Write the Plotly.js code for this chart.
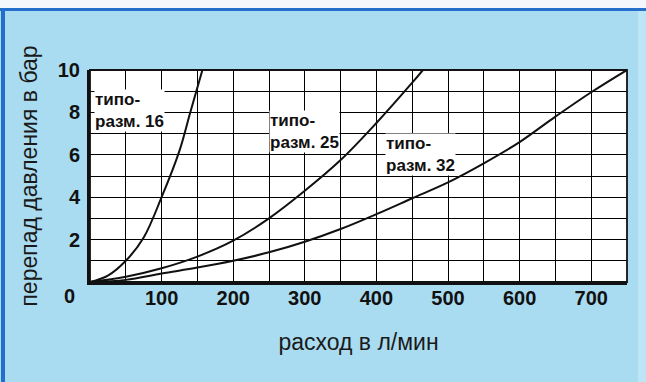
<!DOCTYPE html>
<html>
<head>
<meta charset="utf-8">
<script src="https://cdn.plot.ly/plotly-3.0.1.min.js"></script>
<style>
  html, body { margin: 0; padding: 0; background: #ffffff; }
  #wrap { position: relative; width: 646px; height: 382px; overflow: hidden; }
  #chart { position: absolute; left: 0; top: 0; width: 646px; height: 382px; }
  .deco { position: absolute; pointer-events: none; }
</style>
</head>
<body>
<div id="wrap">
  <div id="chart"></div>
  <div class="deco" style="left:0;top:0;width:646px;height:8px;background:#f2f8fc;"></div>
  <div class="deco" style="left:0;top:8px;width:646px;height:3px;background:#226fcc;"></div>
  <div class="deco" style="left:1px;top:8px;width:4px;height:374px;background:#226fcc;"></div>
  <div class="deco" style="left:638px;top:11px;width:8px;height:371px;background:#bde5f5;"></div>
</div>
<script>
// Flow rate (l/min) and pressure drop (bar) for each size
const flow16 = [0, 25, 50, 75, 100, 125, 140, 157];
const dp16   = [0, 0.3, 1.0, 2.1, 4.0, 6.2, 8.0, 10];

const flow25 = [0, 50, 100, 150, 200, 250, 300, 350, 400, 450, 465];
const dp25   = [0, 0.25, 0.65, 1.2, 1.95, 3.0, 4.3, 5.75, 7.5, 9.4, 10];

const flow32 = [0, 50, 100, 150, 200, 250, 300, 350, 400, 450, 500, 550, 600, 650, 700, 750];
const dp32   = [0, 0.1, 0.4, 0.68, 1.0, 1.4, 1.9, 2.5, 3.2, 3.95, 4.7, 5.6, 6.6, 7.8, 8.95, 10];

// Grid positions and tick labels
const xTickVals = [0, 50, 100, 150, 200, 250, 300, 350, 400, 450, 500, 550, 600, 650, 700, 750];
const xTickText = ['', '', '100', '', '200', '', '300', '', '400', '', '500', '', '600', '', '700', ''];
const yTickVals = [0, 1, 2, 3, 4, 5, 6, 7, 8, 9, 10];
const yTickText = ['', '', '2', '', '4', '', '6', '', '8', '', '10'];
const cornerLabel = '0';

// Curve labels
const curveLabels = ['типо-<br>разм. 16', 'типо-<br>разм. 25', 'типо-<br>разм. 32'];
const labelX = [6, 250, 412];
const labelY = [8.09, 7.08, 6.01];

const lineStyle = {color: '#111111', width: 2, shape: 'spline', smoothing: 1};
const traces = [
  {x: flow16, y: dp16, mode: 'lines', line: lineStyle, hoverinfo: 'skip'},
  {x: flow25, y: dp25, mode: 'lines', line: lineStyle, hoverinfo: 'skip'},
  {x: flow32, y: dp32, mode: 'lines', line: lineStyle, hoverinfo: 'skip'}
];

const tickFont = {family: 'Liberation Sans, Arial, sans-serif', size: 20, color: '#111111', weight: 'bold'};
const titleFont = {family: 'Liberation Sans, Arial, sans-serif', size: 23, color: '#1a1a1a'};
const labelFont = {family: 'Liberation Sans, Arial, sans-serif', size: 17, color: '#111111', weight: 'bold'};

const annotations = curveLabels.map((t, i) => ({
  x: labelX[i], y: labelY[i], xref: 'x', yref: 'y', text: t,
  showarrow: false, xanchor: 'left', yanchor: 'middle', align: 'left',
  bgcolor: '#ffffff', borderpad: 0, font: labelFont
}));
annotations.push({
  x: -0.038, y: -0.066, xref: 'paper', yref: 'paper', text: cornerLabel, showarrow: false,
  xanchor: 'center', yanchor: 'middle', font: tickFont
});

const layout = {
  width: 646, height: 382,
  margin: {l: 90, r: 19, t: 70, b: 100},
  paper_bgcolor: '#aadcf1',
  plot_bgcolor: '#ffffff',
  showlegend: false,
  xaxis: {
    range: [0, 750], tickvals: xTickVals, ticktext: xTickText, ticks: '', ticklabelstandoff: -4,
    showgrid: true, gridcolor: '#000000', gridwidth: 1,
    showline: true, linecolor: '#111111', linewidth: 3, zeroline: false,
    tickfont: tickFont, fixedrange: true,
    title: {text: 'расход в л/мин', font: titleFont, standoff: 26}
  },
  yaxis: {
    range: [0, 10], tickvals: yTickVals, ticktext: yTickText, ticks: '', ticklabelstandoff: 3,
    showgrid: true, gridcolor: '#000000', gridwidth: 1,
    showline: true, linecolor: '#111111', linewidth: 3, zeroline: false,
    tickfont: tickFont, fixedrange: true,
    title: {text: 'перепад давления в бар', font: titleFont, standoff: 14}
  },
  shapes: [{
    type: 'rect', xref: 'paper', yref: 'paper', x0: 0, x1: 1, y0: 0, y1: 1,
    line: {color: '#111111', width: 1.8}, fillcolor: 'rgba(0,0,0,0)', layer: 'above'
  }],
  annotations: annotations
};

Plotly.newPlot('chart', traces, layout, {displayModeBar: false, staticPlot: true});
</script>
</body>
</html>
